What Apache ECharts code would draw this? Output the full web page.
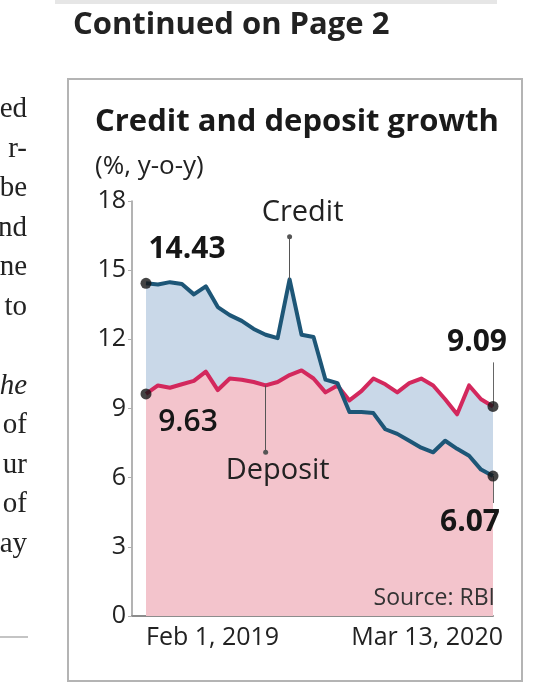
<!DOCTYPE html>
<html><head><meta charset="utf-8">
<script src="https://cdn.jsdelivr.net/npm/echarts@6/dist/echarts.min.js"></script>
<style>html,body{margin:0;padding:0;background:#fff;}#c{width:542px;height:700px;}</style>
</head><body><div id="c"></div>
<script>
// fortnightly reporting dates
const dates = ['Feb 1, 2019','Feb 15, 2019','Mar 1, 2019','Mar 15, 2019','Mar 29, 2019','Apr 12, 2019','Apr 26, 2019','May 10, 2019','May 24, 2019','Jun 7, 2019','Jun 21, 2019','Jul 5, 2019','Jul 19, 2019','Aug 2, 2019','Aug 16, 2019','Aug 30, 2019','Sep 13, 2019','Sep 27, 2019','Oct 11, 2019','Oct 25, 2019','Nov 8, 2019','Nov 22, 2019','Dec 6, 2019','Dec 20, 2019','Jan 3, 2020','Jan 17, 2020','Jan 31, 2020','Feb 14, 2020','Feb 28, 2020','Mar 13, 2020'];
const credit  = [14.43,14.38,14.48,14.4,13.95,14.3,13.4,13.05,12.8,12.45,12.2,12.05,14.6,12.2,12.1,10.25,10.1,8.85,8.85,8.8,8.1,7.9,7.6,7.3,7.1,7.6,7.25,6.95,6.35,6.07];
const deposit = [9.63,10.0,9.9,10.05,10.2,10.6,9.8,10.3,10.25,10.15,10.0,10.15,10.45,10.65,10.3,9.7,10.0,9.35,9.75,10.3,10.05,9.7,10.1,10.3,10.0,9.4,8.75,10.0,9.4,9.09];
const yTicks = [0,3,6,9,12,15,18];
const xTickLabels = ['Feb 1, 2019','Mar 13, 2020'];

const F = '"Open Sans", Lato, sans-serif';
const last = credit.length - 1;
const pair = arr => arr.map((v, i) => [i, v]);
const lower = credit.map((v, i) => Math.min(v, deposit[i]));
const spikeIdx = credit.indexOf(Math.max(...credit.slice(1)));

const chart = echarts.init(document.getElementById('c'), null, {renderer: 'canvas'});

const dotLabel = (off, w) => ({show: true, position: 'inside', offset: off, align: 'center', verticalAlign: 'middle',
  formatter: p => p.value[1].toFixed(2), fontFamily: F, fontSize: 30, fontWeight: w || 'bold',
  color: '#161616', textBorderWidth: 0, opacity: 1});

const option = {
  animation: false,
  backgroundColor: '#fff',
  title: [
    {text: 'Continued on Page 2', left: 73, top: 10, padding: 0, textStyle: {fontFamily: F, fontSize: 31, fontWeight: 'bold', color: '#222'}},
    {text: 'Credit and deposit growth', left: 95, top: 107, padding: 0, textStyle: {fontFamily: F, fontSize: 31, fontWeight: 'bold', color: '#1a1a1a'}},
    {text: '(%, y-o-y)', left: 95, top: 154, padding: 0, textStyle: {fontFamily: F, fontSize: 26, fontWeight: 'normal', color: '#222'}},
    {text: 'Source: RBI', right: 47, top: 587, padding: 0, textStyle: {fontFamily: F, fontSize: 23, fontWeight: 'normal', color: '#333'}}
  ],
  graphic: [
    {type: 'rect', shape: {x: 68, y: 79, width: 454, height: 602}, style: {fill: 'none', stroke: '#b4b4b4', lineWidth: 2}, z: 0},
    {type: 'line', shape: {x1: 55, y1: 2, x2: 497, y2: 2}, style: {stroke: '#e6e6e6', lineWidth: 4}},
    {type: 'line', shape: {x1: 0, y1: 637, x2: 28, y2: 637}, style: {stroke: '#c4c4c4', lineWidth: 2}},
    ...[['ed',124],['r-',163.5],['be',203],['nd',242.5],['ne',282],['to',321.5],['he',400.5,true],['of',440],['ur',479.5],['of',519],['ay',558.5]]
      .map(([t, y, it]) => ({type: 'text', x: 27, y: y, style: {text: t, textAlign: 'right', textVerticalAlign: 'bottom',
        font: (it ? 'italic ' : '') + '29px "Liberation Serif", serif', fill: '#222'}}))
  ],
  grid: {left: 132, right: 49, top: 201, bottom: 84},
  xAxis: {
    type: 'value', min: -1.17, max: last,
    axisLine: {show: true, onZero: false, lineStyle: {color: '#8c8c8c', width: 2}},
    axisTick: {show: false}, splitLine: {show: false},
    axisLabel: {customValues: [0, last], formatter: v => xTickLabels[v === 0 ? 0 : 1],
      alignMinLabel: 'left', alignMaxLabel: 'right', padding: [0, -10, 0, 0],
      fontFamily: F, fontSize: 25, color: '#222', margin: 9}
  },
  yAxis: {
    type: 'value', min: 0, max: 18, interval: 3,
    axisLine: {show: true, onZero: false, lineStyle: {color: '#9a9a9a', width: 1.5}},
    axisTick: {show: true, length: 4, lineStyle: {color: '#b0b0b0'}},
    splitLine: {show: false},
    axisLabel: {formatter: v => yTicks.includes(v) ? String(v) : '', fontFamily: F, fontSize: 25, color: '#222', margin: 6}
  },
  series: [
    {type: 'line', data: pair(credit), symbol: 'none', lineStyle: {width: 0}, areaStyle: {color: '#c9d8e8', opacity: 1}, z: 1, silent: true},
    {type: 'line', data: pair(deposit), symbol: 'none', lineStyle: {width: 0}, areaStyle: {color: '#c9d8e8', opacity: 1}, z: 1, silent: true},
    {type: 'line', data: pair(lower), symbol: 'none', lineStyle: {width: 0}, areaStyle: {color: '#f3c4cc', opacity: 1}, z: 2, silent: true},
    {name: 'Deposit', type: 'line', data: pair(deposit), symbol: 'none', z: 3,
      lineStyle: {color: '#d3285d', width: 4, join: 'round'},
      markLine: {silent: true, symbol: ['none', 'circle'], symbolSize: 5, animation: false,
        lineStyle: {color: '#555', width: 1, type: 'solid'},
        label: {show: true, position: 'end', formatter: 'Deposit', fontFamily: F, fontSize: 29, color: '#222', distance: 4, offset: [12, 0]},
        data: [[{coord: [10, deposit[10]]}, {coord: [10, 7.1]}]]}},
    {name: 'Credit', type: 'line', data: pair(credit), symbol: 'none', z: 4,
      lineStyle: {color: '#1d5677', width: 4, join: 'round'},
      markLine: {silent: true, symbol: ['none', 'circle'], symbolSize: 5, animation: false,
        lineStyle: {color: '#555', width: 1, type: 'solid'},
        label: {show: true, position: 'end', formatter: 'Credit', fontFamily: F, fontSize: 29, color: '#222', distance: 10, offset: [13, 0]},
        data: [[{coord: [spikeIdx, credit[spikeIdx]]}, {coord: [spikeIdx, 16.45]}]]}},
    {type: 'line', data: [], markLine: {silent: true, symbol: 'none', animation: false, label: {show: false},
        lineStyle: {color: '#666', width: 1, type: 'solid'},
        data: [[{coord: [last, deposit[last]]}, {coord: [last, 11.0]}], [{coord: [last, credit[last]]}, {coord: [last, 4.9]}]]}},
    {type: 'scatter', z: 6, symbolSize: 11, itemStyle: {color: '#151515'},
      data: [
        {value: [0, credit[0]], label: dotLabel([41, -34])},
        {value: [0, deposit[0]], label: dotLabel([42, 28], 600)},
        {value: [last, deposit[last]], label: dotLabel([-16, -64])},
        {value: [last, credit[last]], label: dotLabel([-23, 46])}
      ]}
  ]
};
chart.setOption(option);
</script></body></html>
